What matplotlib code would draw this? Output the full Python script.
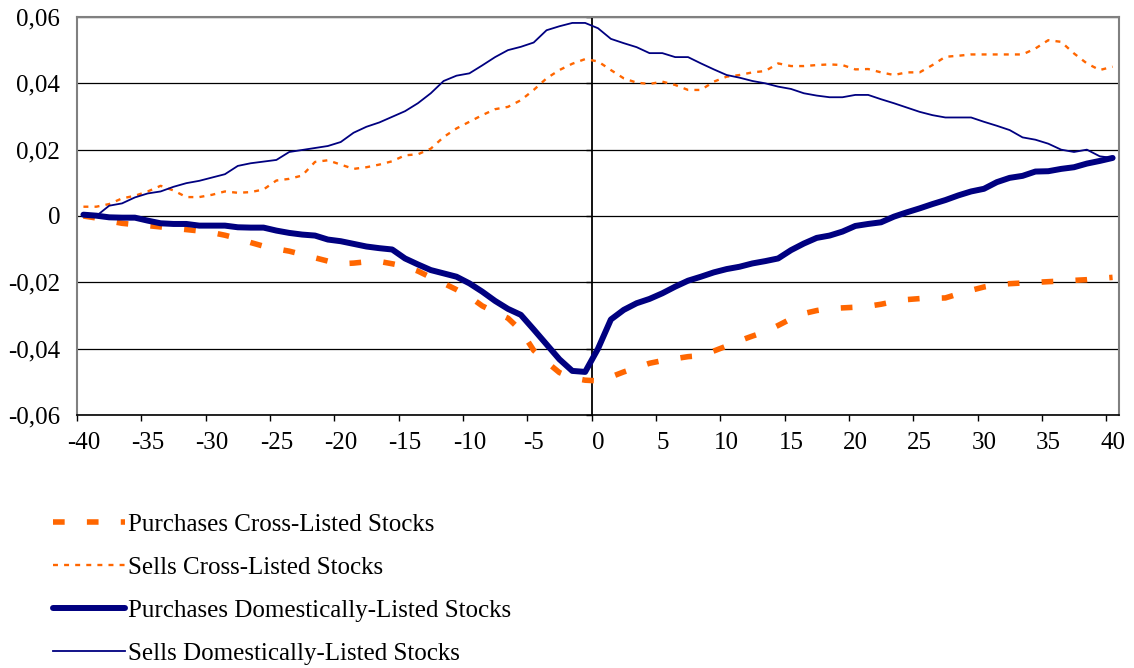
import matplotlib
matplotlib.use("Agg")
import matplotlib.pyplot as plt
import numpy as np

# дни окна события
days = list(range(-40, 41))

purch_cross = [0.0000, -0.0006, -0.0015, -0.0022, -0.0026, -0.0029, -0.0033, -0.0037, -0.0041, -0.0045,
               -0.0050, -0.0058, -0.0068, -0.0080, -0.0091, -0.0099, -0.0106, -0.0116, -0.0126, -0.0136,
               -0.0144, -0.0142, -0.0138, -0.0137, -0.0144, -0.0152, -0.0166, -0.0185, -0.0203, -0.0222,
               -0.0243, -0.0271, -0.0290, -0.0308, -0.0345, -0.0405, -0.0440, -0.0472, -0.0488, -0.0495,
               -0.0497, -0.0485, -0.0470, -0.0457, -0.0444, -0.0436, -0.0430, -0.0424, -0.0421, -0.0407,
               -0.0392, -0.0376, -0.0362, -0.0349, -0.0330, -0.0310, -0.0294, -0.0285, -0.0279, -0.0277,
               -0.0275, -0.0272, -0.0266, -0.0258, -0.0252, -0.0249, -0.0248, -0.0247, -0.0235, -0.0224,
               -0.0214, -0.0207, -0.0204, -0.0202, -0.0200, -0.0198, -0.0196, -0.0194, -0.0192, -0.0188,
               -0.0185]

sells_cross = [0.0028, 0.0028, 0.0036, 0.0053, 0.0061, 0.0074, 0.0091, 0.0077, 0.0057, 0.0057,
               0.0064, 0.0074, 0.0070, 0.0072, 0.0080, 0.0107, 0.0112, 0.0122, 0.0163, 0.0168,
               0.0155, 0.0142, 0.0147, 0.0155, 0.0165, 0.0183, 0.0186, 0.0203, 0.0238, 0.0264,
               0.0284, 0.0304, 0.0322, 0.0329, 0.0349, 0.0380, 0.0415, 0.0440, 0.0459, 0.0473,
               0.0466, 0.0440, 0.0415, 0.0402, 0.0398, 0.0405, 0.0395, 0.0380, 0.0380, 0.0405,
               0.0420, 0.0425, 0.0433, 0.0437, 0.0460, 0.0452, 0.0452, 0.0455, 0.0457, 0.0455,
               0.0442, 0.0443, 0.0433, 0.0425, 0.0433, 0.0433, 0.0455, 0.0480, 0.0483, 0.0487,
               0.0487, 0.0487, 0.0487, 0.0487, 0.0505, 0.0530, 0.0525, 0.0490, 0.0460, 0.0440,
               0.0450]

purch_dom = [0.0004, 0.0001, -0.0004, -0.0005, -0.0005, -0.0014, -0.0022, -0.0024, -0.0024, -0.0029,
             -0.0029, -0.0029, -0.0034, -0.0035, -0.0035, -0.0044, -0.0051, -0.0056, -0.0059, -0.0071,
             -0.0076, -0.0084, -0.0092, -0.0097, -0.0101, -0.0128, -0.0146, -0.0163, -0.0173, -0.0183,
             -0.0203, -0.0228, -0.0256, -0.0280, -0.0298, -0.0342, -0.0387, -0.0432, -0.0467, -0.0470,
             -0.0400, -0.0312, -0.0283, -0.0263, -0.0250, -0.0233, -0.0213, -0.0195, -0.0183, -0.0170,
             -0.0160, -0.0153, -0.0143, -0.0136, -0.0128, -0.0103, -0.0083, -0.0066, -0.0059, -0.0047,
             -0.0030, -0.0024, -0.0019, -0.0002, 0.0011, 0.0023, 0.0036, 0.0048, 0.0062, 0.0074,
             0.0082, 0.0102, 0.0115, 0.0121, 0.0134, 0.0135, 0.0142, 0.0147, 0.0158, 0.0166,
             0.0175]

sells_dom = [0.0005, 0.0000, 0.0031, 0.0038, 0.0056, 0.0068, 0.0074, 0.0088, 0.0099, 0.0106,
             0.0116, 0.0126, 0.0151, 0.0159, 0.0164, 0.0169, 0.0193, 0.0199, 0.0205, 0.0211,
             0.0223, 0.0251, 0.0269, 0.0282, 0.0299, 0.0316, 0.0340, 0.0370, 0.0407, 0.0423,
             0.0430, 0.0454, 0.0479, 0.0500, 0.0510, 0.0523, 0.0560, 0.0572, 0.0582, 0.0582,
             0.0566, 0.0534, 0.0521, 0.0509, 0.0491, 0.0491, 0.0479, 0.0479, 0.0460, 0.0442,
             0.0425, 0.0417, 0.0407, 0.0400, 0.0390, 0.0383, 0.0370, 0.0363, 0.0358, 0.0358,
             0.0365, 0.0365, 0.0352, 0.0340, 0.0327, 0.0314, 0.0304, 0.0297, 0.0297, 0.0297,
             0.0284, 0.0272, 0.0259, 0.0237, 0.0230, 0.0218, 0.0200, 0.0193, 0.0200, 0.0180,
             0.0175]

labels = ["Purchases Cross-Listed Stocks", "Sells Cross-Listed Stocks",
          "Purchases Domestically-Listed Stocks", "Sells Domestically-Listed Stocks"]

x_ticks = list(range(-40, 41, 5))
y_ticks = [-0.06, -0.04, -0.02, 0, 0.02, 0.04, 0.06]
y_tick_labels = ["-0,06", "-0,04", "-0,02", "0", "0,02", "0,04", "0,06"]

orange = "#FF6600"
navy = "#000080"

plt.rcParams["font.family"] = ["Liberation Serif", "DejaVu Serif"]
plt.rcParams["font.size"] = 18

fig = plt.figure(figsize=(11.34, 6.68), dpi=100)
ax = fig.add_axes([0.0679, 0.3787, 0.9189, 0.5959])

# как в Excel: точки в середине категорий
xs = np.array(days) + 0.5

ax.plot(xs, purch_cross, color=orange, lw=4.0, dashes=(2.1, 4.0), dash_capstyle="butt", label=labels[0])
ax.plot(xs, sells_cross, color=orange, lw=1.7, dashes=(2.1, 2.6), dash_capstyle="butt", label=labels[1])
ax.plot(xs, purch_dom, color=navy, lw=4.3, solid_capstyle="round", label=labels[2])
ax.plot(xs, sells_dom, color=navy, lw=1.3, label=labels[3])

ax.set_xlim(-40, 41)
ax.set_ylim(-0.06, 0.06)

ax.set_yticks(y_ticks)
ax.set_yticklabels(y_tick_labels)
ax.tick_params(axis="y", length=0, pad=12)
ax.set_axisbelow(True)
ax.yaxis.grid(True, color="black", lw=0.9)

# метки делений между подписями, подписи по центру категорий
ax.set_xticks(x_ticks)
ax.set_xticklabels([])
ax.set_xticks([t + 0.5 for t in x_ticks], minor=True)
ax.set_xticklabels([str(t) for t in x_ticks], minor=True)
ax.tick_params(axis="x", which="major", length=4, width=1, color="black", direction="out")
ax.tick_params(axis="x", which="minor", length=0, pad=12)

for side in ["left", "top", "right"]:
    ax.spines[side].set_color("#808080")
    ax.spines[side].set_linewidth(1.5)
ax.spines["bottom"].set_color("black")
ax.spines["bottom"].set_linewidth(1.2)

# вертикальная ось через день 0
sec = ax.secondary_yaxis(40 / 81)
sec.set_yticks(y_ticks)
sec.tick_params(labelleft=False, labelright=False, length=4, width=1, direction="out")
sec.spines["left"].set_color("black")
sec.spines["left"].set_linewidth(1.3)
sec.set_zorder(0)

fig.legend(loc="upper left", bbox_to_anchor=(0.047, 0.232), frameon=False,
           handlelength=2.85, handletextpad=0.15, labelspacing=0.82,
           borderpad=0, borderaxespad=0)

plt.savefig("out.png", dpi=100)
